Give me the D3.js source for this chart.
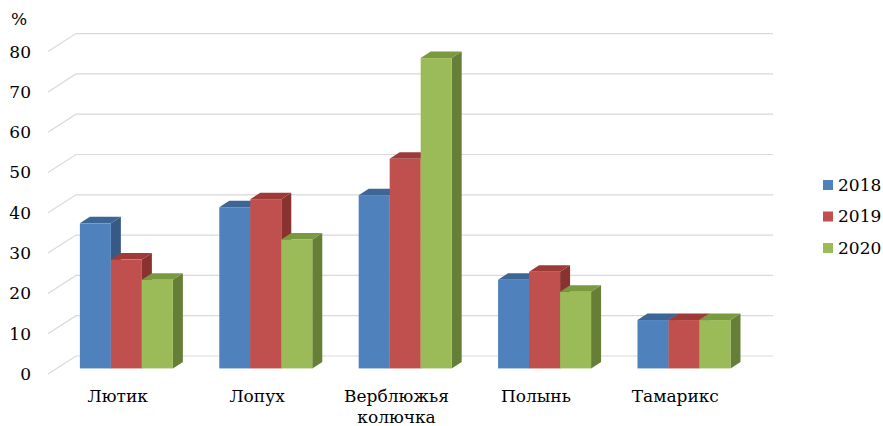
<!DOCTYPE html>
<html>
<head>
<meta charset="utf-8">
<script src="https://cdn.jsdelivr.net/npm/d3@7"></script>
<style>
  body { margin: 0; background: #fff; }
</style>
</head>
<body>
<svg id="chart"></svg>
<script>
// plant categories and share by year, %
let categories = ["Лютик", "Лопух", "Верблюжья колючка", "Полынь", "Тамарикс"];
let years = ["2018", "2019", "2020"];
let values2018 = [36, 40, 43, 22, 12];
let values2019 = [27, 42, 52, 24, 12];
let values2020 = [22, 32, 77, 19, 12];
let yTicks = [0, 10, 20, 30, 40, 50, 60, 70, 80];

let series = [values2018, values2019, values2020];

// front, top, side colours per year
let colors = [
  { front: "#4f81bd", top: "#3d6596", side: "#375a85" },
  { front: "#c0504d", top: "#9e3b38", side: "#8a3230" },
  { front: "#9bbb59", top: "#7a9a40", side: "#667f36" }
];

// Liberation Serif falls back to sans here, so use DejaVu Serif
let font = "'DejaVu Serif', serif";
let fontSize = 17;

let width = 883, height = 426;
let svg = d3.select("#chart")
  .attr("width", width)
  .attr("height", height)
  .attr("font-family", font)
  .style("font-family", font);

// oblique 3d: floor front-left corner, depth offset
let frontX = 48, frontY = 374;
let depthX = 28, depthY = -18;
let wallWidth = 697;
let barDepth = 0.31; // fraction of depth where bar front sits
let barDx = 10, barDy = -6.5;

let y = d3.scaleLinear().domain([0, 80]).range([0, 322.4]);
let x0 = d3.scaleBand().domain(categories).range([0, wallWidth]);
let x1 = d3.scaleBand().domain(years).range([23.2, 116.2]);

// gridlines: side wall diagonal + back wall
let grid = svg.append("g").attr("stroke", "#d9d9d9").attr("stroke-width", 1.2).attr("fill", "none");
yTicks.forEach(function(t) {
  let fy = frontY - y(t);
  grid.append("path")
    .attr("d", "M" + frontX + "," + fy +
      "L" + (frontX + depthX) + "," + (fy + depthY) +
      "L" + (frontX + depthX + wallWidth) + "," + (fy + depthY));
});

// tick labels
svg.append("g").selectAll("text")
  .data(yTicks)
  .join("text")
  .attr("x", 31)
  .attr("y", d => frontY - y(d))
  .attr("dy", "0.35em")
  .attr("text-anchor", "end")
  .attr("font-size", fontSize)
  .text(d => d);

svg.append("text")
  .attr("x", 11)
  .attr("y", 25)
  .attr("font-size", fontSize)
  .text("%");

// bars
let bx = frontX + depthX * barDepth;
let by = frontY + depthY * barDepth;
let bars = svg.append("g");
categories.forEach(function(cat, i) {
  years.forEach(function(yr, j) {
    let v = series[j][i];
    let left = bx + x0(cat) + x1(yr);
    let w = x1.bandwidth();
    let top = by - y(v);
    let c = colors[j];
    // side
    bars.append("path")
      .attr("fill", c.side)
      .attr("d", "M" + (left + w) + "," + by +
        "L" + (left + w + barDx) + "," + (by + barDy) +
        "L" + (left + w + barDx) + "," + (top + barDy) +
        "L" + (left + w) + "," + top + "Z");
    // top
    bars.append("path")
      .attr("fill", c.top)
      .attr("d", "M" + left + "," + top +
        "L" + (left + barDx) + "," + (top + barDy) +
        "L" + (left + w + barDx) + "," + (top + barDy) +
        "L" + (left + w) + "," + top + "Z");
    // front
    bars.append("rect")
      .attr("fill", c.front)
      .attr("x", left)
      .attr("y", top)
      .attr("width", w)
      .attr("height", y(v));
  });
});

// category labels
let labels = svg.append("g");
categories.forEach(function(cat) {
  let cx = frontX + x0(cat) + x0.bandwidth() / 2;
  let words = cat.split(" ");
  words.forEach(function(wd, k) {
    labels.append("text")
      .attr("x", cx)
      .attr("y", 402 + k * 21)
      .attr("text-anchor", "middle")
      .attr("font-size", fontSize)
      .text(wd);
  });
});

// legend
let legend = svg.append("g");
years.forEach(function(yr, j) {
  let ly = 185 + j * 31.5;
  legend.append("rect")
    .attr("x", 823)
    .attr("y", ly - 5)
    .attr("width", 10)
    .attr("height", 10)
    .attr("fill", colors[j].front);
  legend.append("text")
    .attr("x", 838)
    .attr("y", ly)
    .attr("dy", "0.35em")
    .attr("font-size", fontSize)
    .text(yr);
});
</script>
</body>
</html>
